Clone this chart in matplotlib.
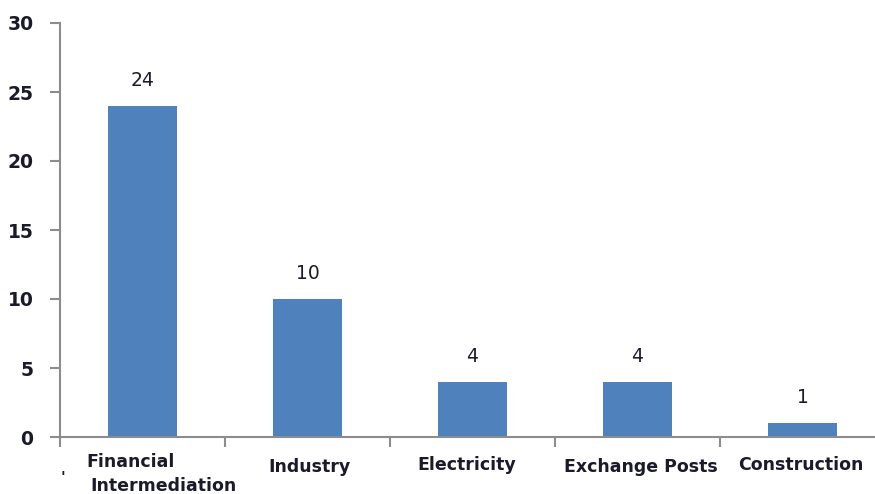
import matplotlib.pyplot as plt
import numpy as np

categories = ["Financial\nIntermediation", "Industry", "Electricity", "Exchange Posts", "Construction"]
values = [24, 10, 4, 4, 1]

BAR_COLOR = "#4F81BD"
AXIS_COLOR = "#8c8c8c"
TEXT_COLOR = "#1a1a2a"

fig = plt.figure(figsize=(8.75, 4.94), dpi=100)
ax = fig.add_axes([60 / 875, 1 - 437 / 494, 825 / 875, 414 / 494])

x = np.arange(len(categories))
ax.bar(x, values, width=0.42, color=BAR_COLOR, zorder=2)

for xi, v in zip(x, values):
    ax.annotate(str(v), xy=(xi, v), xytext=(0, 18.5), textcoords="offset points",
                ha="center", va="center", fontsize=13.5, color=TEXT_COLOR)

ax.set_xlim(-0.5, len(categories) - 0.5)
ax.set_ylim(0, 30)
ax.set_yticks(range(0, 31, 5))
ax.set_xticks(np.arange(len(categories) + 1) - 0.5)
ax.set_xticklabels([])
ax.tick_params(axis="both", direction="out", length=7, width=1.5, color=AXIS_COLOR)
ax.tick_params(axis="y", labelsize=13.5, labelcolor=TEXT_COLOR, pad=12)
for lbl in ax.get_yticklabels():
    lbl.set_fontweight("bold")

for side in ("top", "right"):
    ax.spines[side].set_visible(False)
for side in ("left", "bottom"):
    ax.spines[side].set_color(AXIS_COLOR)
    ax.spines[side].set_linewidth(1.5)

# category labels sit a little unevenly under each bar; two-line labels are
# placed line by line so the second line can be indented
label_offsets = [[(-0.075, -18), (0.127, -35)], [(0.01, -21.6)], [(-0.036, -20)],
                 [(0.02, -21.6)], [(-0.01, -20)]]
for xi, name, offsets in zip(x, categories, label_offsets):
    for line, (dx, dy) in zip(name.split("\n"), offsets):
        ax.annotate(line, xy=(xi + dx, 0), xytext=(0, dy),
                    textcoords="offset points", ha="center", va="center",
                    fontsize=12.5, fontweight="bold", color=TEXT_COLOR,
                    annotation_clip=False)

fig.text(63 / 875, 1 - 478 / 494, "'", fontsize=11, fontweight="bold",
         color=TEXT_COLOR, ha="center", va="center")

fig.savefig("out.png", dpi=100, facecolor="white")
